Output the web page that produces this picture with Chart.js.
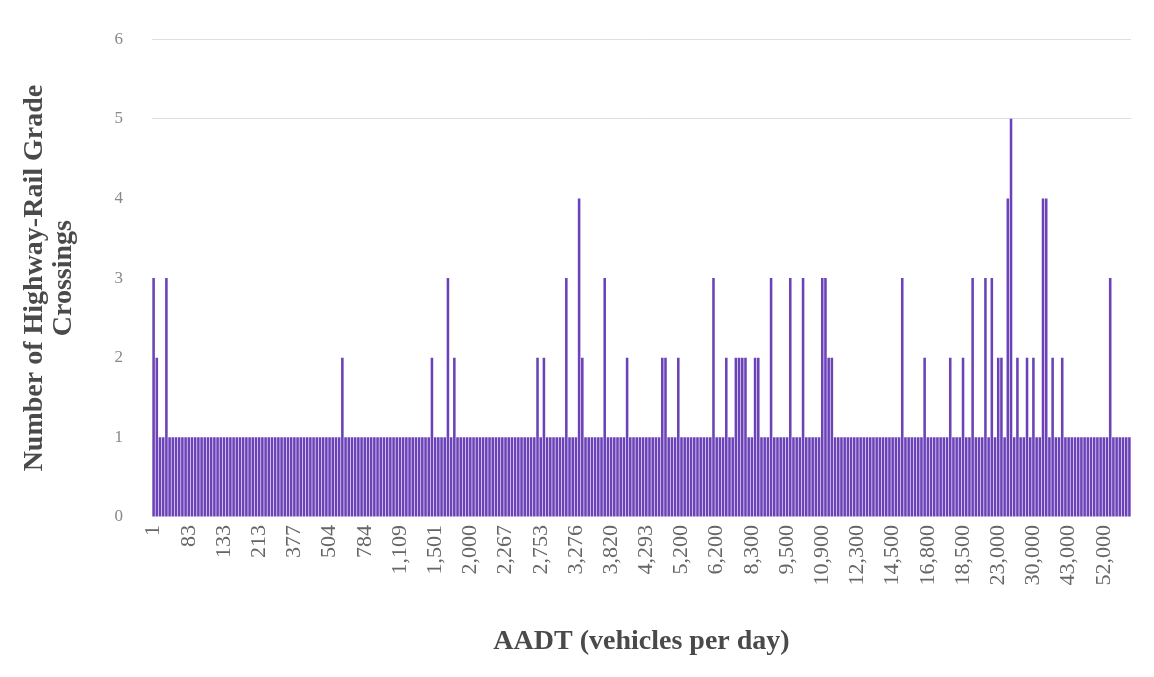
<!DOCTYPE html>
<html>
<head>
<meta charset="utf-8">
<script src="https://cdn.jsdelivr.net/npm/chart.js@4/dist/chart.umd.min.js"></script>
<style>
  html, body { margin: 0; padding: 0; background: #fff; }
  #wrap { width: 1154px; height: 677px; }
</style>
</head>
<body>
<div id="wrap"><canvas id="aadtChart" width="1154" height="677"></canvas></div>
<script>
// AADT tick labels shown under every 11th bar
const tickLabels = ["1", "83", "133", "213", "377", "504", "784", "1,109", "1,501", "2,000",
  "2,267", "2,753", "3,276", "3,820", "4,293", "5,200", "6,200", "8,300", "9,500", "10,900",
  "12,300", "14,500", "16,800", "18,500", "23,000", "30,000", "43,000", "52,000"];
const labelStep = 11;

// number of highway-rail grade crossings for each AADT value (sorted)
const crossings = [
  3,2,1,1,3,1,1,1,1,1,1,1,1,1,1,1,1,1,1,1,
  1,1,1,1,1,1,1,1,1,1,1,1,1,1,1,1,1,1,1,1,
  1,1,1,1,1,1,1,1,1,1,1,1,1,1,1,1,1,1,1,2,
  1,1,1,1,1,1,1,1,1,1,1,1,1,1,1,1,1,1,1,1,
  1,1,1,1,1,1,1,2,1,1,1,1,3,1,2,1,1,1,1,1,
  1,1,1,1,1,1,1,1,1,1,1,1,1,1,1,1,1,1,1,1,
  2,1,2,1,1,1,1,1,1,3,1,1,1,4,2,1,1,1,1,1,
  1,3,1,1,1,1,1,1,2,1,1,1,1,1,1,1,1,1,1,2,
  2,1,1,1,2,1,1,1,1,1,1,1,1,1,1,3,1,1,1,2,
  1,1,2,2,2,2,1,1,2,2,1,1,1,3,1,1,1,1,1,3,
  1,1,1,3,1,1,1,1,1,3,3,2,2,1,1,1,1,1,1,1,
  1,1,1,1,1,1,1,1,1,1,1,1,1,1,3,1,1,1,1,1,
  1,2,1,1,1,1,1,1,1,2,1,1,1,2,1,1,3,1,1,1,
  3,1,3,1,2,2,1,4,5,1,2,1,1,2,1,2,1,1,4,4,
  1,2,1,1,2,1,1,1,1,1,1,1,1,1,1,1,1,1,1,3,
  1,1,1,1,1,1
];

const xLabels = crossings.map((c, i) => (i % labelStep === 0 ? (tickLabels[i / labelStep] || "") : ""));

const serif = "'Liberation Serif', 'Times New Roman', serif";

new Chart(document.getElementById("aadtChart"), {
  type: "bar",
  data: {
    labels: xLabels,
    datasets: [{
      data: crossings,
      backgroundColor: "#6b42b8",
      borderWidth: 0,
      barPercentage: 0.8,
      categoryPercentage: 1.0
    }]
  },
  options: {
    responsive: false,
    animation: false,
    layout: { padding: { left: 18, right: 23, top: 21, bottom: 18 } },
    plugins: { legend: { display: false }, tooltip: { enabled: false } },
    scales: {
      x: {
        afterFit: (scale) => {
          scale.height = 142;
          scale.paddingLeft = 0;
          scale.paddingRight = 0;
        },
        grid: { display: false, drawTicks: false },
        border: { display: false },
        ticks: {
          autoSkip: false,
          minRotation: 90,
          maxRotation: 90,
          padding: 8,
          color: "#666",
          font: { family: serif, size: 22 }
        },
        title: {
          display: true,
          text: "AADT (vehicles per day)",
          color: "#4a4a4a",
          font: { family: serif, size: 28, weight: "bold" },
          padding: { top: 0, bottom: 0 }
        }
      },
      y: {
        min: 0,
        max: 6,
        afterFit: (scale) => { scale.width = 134; },
        ticks: {
          stepSize: 1,
          padding: 29,
          color: "#888",
          font: { family: serif, size: 17 }
        },
        grid: {
          drawTicks: false,
          color: (ctx) => (ctx.tick && ctx.tick.value >= 5 ? "#dedede" : "rgba(0,0,0,0)")
        },
        border: { display: false },
        title: {
          display: true,
          text: ["Number of Highway-Rail Grade", "Crossings"],
          color: "#4a4a4a",
          font: { family: serif, size: 28, weight: "bold", lineHeight: 1.05 },
          padding: { top: 2, bottom: 0 }
        }
      }
    }
  }
});
</script>
</body>
</html>
